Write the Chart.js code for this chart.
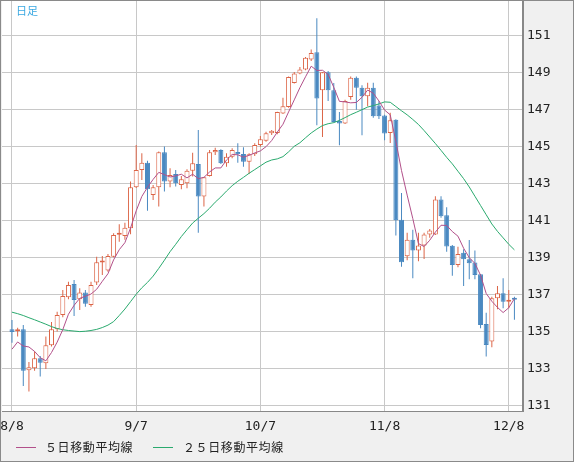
<!DOCTYPE html>
<html>
<head>
<meta charset="utf-8">
<title>日足</title>
<script src="https://cdn.jsdelivr.net/npm/chart.js@4.4.1/dist/chart.umd.min.js"></script>
<style>
  html, body { margin: 0; padding: 0; background: #f0f0f0; }
  #wrap { position: relative; width: 574px; height: 462px; background: #f0f0f0; overflow: hidden; }
  #frame { position: absolute; left: 0; top: 0; width: 574px; height: 462px; box-sizing: border-box; border: 1px solid #8a8a8a; pointer-events: none; }
  #title { position: absolute; left: 16px; top: 4px; font-family: "Noto Sans CJK JP"; font-size: 11px; line-height: 12px; color: #3aa8e2; }
  .legend { position: absolute; top: 438px; font-family: "Noto Sans CJK JP"; font-size: 12px; line-height: 18px; letter-spacing: 0.6px; color: #222; white-space: nowrap; }
  .legend i { position: absolute; top: 9px; height: 1px; width: 20px; }
</style>
</head>
<body>
<div id="wrap">
  <canvas id="chart" width="574" height="462"></canvas>
  <div id="title">日足</div>
  <div class="legend" style="left:45px"><i style="left:-29px;background:#b2508a"></i>５日移動平均線</div>
  <div class="legend" style="left:183px"><i style="left:-30px;background:#2aaa6e"></i>２５日移動平均線</div>
  <div id="frame"></div>
</div>
<script>
// 日足データ (8/8 - 12/9)
const days = [
  '8/8','8/9','8/10','8/11','8/12','8/15','8/16','8/17','8/18','8/19',
  '8/22','8/23','8/24','8/25','8/26','8/29','8/30','8/31','9/1','9/2',
  '9/5','9/6','9/7','9/8','9/9','9/12','9/13','9/14','9/15','9/16',
  '9/19','9/20','9/21','9/22','9/23','9/26','9/27','9/28','9/29','9/30',
  '10/3','10/4','10/5','10/6','10/7','10/10','10/11','10/12','10/13','10/14',
  '10/17','10/18','10/19','10/20','10/21','10/24','10/25','10/26','10/27','10/28',
  '10/31','11/1','11/2','11/3','11/4','11/7','11/8','11/9','11/10','11/11',
  '11/14','11/15','11/16','11/17','11/18','11/21','11/22','11/23','11/24','11/25',
  '11/28','11/29','11/30','12/1','12/2','12/5','12/6','12/7','12/8','12/9'
];

const openP = [
  135.11,135.00,135.11,132.89,133.00,133.54,133.27,134.24,135.11,135.88,
  136.84,137.56,136.73,137.09,136.42,137.63,138.71,138.28,139.03,140.22,
  140.15,140.57,142.78,143.72,144.11,142.37,142.78,144.68,143.09,143.50,
  142.91,143.00,143.68,144.04,142.28,143.39,144.68,144.80,144.08,144.44,
  144.69,144.58,144.17,144.57,145.07,145.30,145.70,145.72,146.77,147.12,
  148.42,148.93,149.15,149.69,150.08,148.03,149.00,148.03,146.37,146.23,
  147.66,148.71,148.17,147.70,148.16,147.20,146.66,145.72,146.44,141.03,
  139.05,139.95,139.37,139.63,140.23,140.23,142.12,141.27,139.62,138.58,
  139.25,138.89,138.71,138.08,135.39,134.44,136.78,137.05,136.60,136.74
];
const highP = [
  135.61,135.19,135.34,133.34,133.92,133.66,134.71,135.50,136.06,137.23,
  137.68,137.77,137.32,137.23,137.68,139.03,139.07,139.18,140.30,140.78,
  140.87,143.09,145.07,144.62,144.22,142.91,144.72,144.99,143.81,143.72,
  143.40,143.76,144.65,145.88,143.34,144.80,144.92,144.84,144.62,144.89,
  145.16,144.95,144.62,145.16,145.56,145.79,145.88,146.87,147.63,148.78,
  149.02,149.29,149.83,150.23,151.92,149.02,149.07,148.42,146.85,147.52,
  148.78,148.78,148.30,148.43,148.43,147.43,146.71,146.81,146.46,142.48,
  140.32,140.49,140.32,140.32,140.53,142.30,142.30,141.70,139.66,139.57,
  139.43,139.93,139.36,138.10,136.00,136.87,137.45,137.86,137.23,136.87
];
const lowP = [
  134.38,134.71,132.04,131.74,132.87,132.55,132.96,134.17,134.98,135.76,
  136.73,135.83,136.15,136.33,136.33,137.50,138.04,138.22,139.00,139.84,
  139.94,140.24,142.75,143.18,141.52,142.10,141.74,142.55,142.78,142.82,
  142.68,142.73,143.36,140.33,141.74,143.37,144.53,144.04,143.90,144.35,
  144.11,143.90,143.50,144.48,144.98,145.25,145.61,145.65,146.75,147.09,
  148.39,148.89,149.11,149.61,146.14,145.50,147.45,146.29,145.05,146.21,
  147.52,146.98,145.60,147.16,146.54,146.48,145.32,145.18,140.17,138.48,
  138.84,137.86,138.78,138.91,140.05,140.21,141.13,139.30,138.00,138.46,
  137.45,137.81,137.81,135.16,133.63,134.14,136.19,136.24,136.24,135.62
];
const closeP = [
  134.96,135.11,132.87,133.05,133.54,133.30,134.24,135.11,135.88,136.91,
  137.50,136.69,137.09,136.48,137.50,138.73,138.80,139.07,140.21,140.26,
  140.60,142.78,143.72,144.11,142.68,142.78,144.68,143.09,143.45,143.00,
  143.22,143.68,144.08,142.28,143.32,144.68,144.80,144.08,144.44,144.80,
  144.57,144.17,144.57,145.07,145.38,145.70,145.84,146.85,147.16,148.75,
  148.93,149.15,149.79,150.04,147.58,149.00,148.03,146.31,146.23,147.45,
  148.71,148.17,147.70,148.16,146.62,146.62,145.69,146.41,141.00,138.73,
  139.95,139.37,139.63,140.23,140.44,142.12,141.22,139.58,138.58,139.18,
  138.89,138.68,138.04,135.34,134.26,136.78,137.05,136.60,136.68,136.70
];

// 移動平均線 (チャートから読み取り)
const ma5 = [
  134.03,134.42,134.20,134.15,133.91,133.57,133.40,133.85,134.41,135.09,
  135.92,136.40,136.78,136.89,137.01,137.27,137.70,138.11,138.86,139.41,
  139.79,140.58,141.51,142.29,142.78,143.21,143.59,143.47,143.34,143.40,
  143.49,143.29,143.49,143.25,143.32,143.61,143.83,143.83,144.26,144.56,
  144.54,144.41,144.51,144.64,144.75,144.98,145.31,145.77,146.19,146.86,
  147.51,148.17,148.76,149.33,149.10,149.11,148.89,148.19,147.43,147.40,
  147.35,147.37,147.65,148.04,147.87,147.45,146.96,146.70,145.27,143.69,
  142.36,141.09,139.74,139.58,139.92,140.36,140.73,140.72,140.39,140.14,
  139.49,138.98,138.67,138.03,137.04,136.62,136.29,136.01,136.27,136.76
];
const ma25 = [
  136.03,135.95,135.85,135.73,135.62,135.50,135.38,135.25,135.15,135.08,
  135.04,135.01,134.98,135.00,135.04,135.10,135.20,135.33,135.52,135.85,
  136.20,136.60,137.00,137.35,137.64,137.98,138.40,138.84,139.30,139.70,
  140.12,140.49,140.85,141.11,141.36,141.65,141.98,142.26,142.58,142.87,
  143.11,143.32,143.54,143.74,143.94,144.14,144.26,144.32,144.44,144.70,
  145.00,145.19,145.46,145.72,145.93,146.12,146.22,146.28,146.40,146.55,
  146.71,146.84,146.98,147.12,147.20,147.29,147.40,147.38,147.15,146.92,
  146.70,146.45,146.18,145.85,145.50,145.15,144.78,144.40,144.05,143.65,
  143.25,142.80,142.30,141.80,141.30,140.80,140.40,140.05,139.70,139.40
];

const xTickLabels = ['8/8', '9/7', '10/7', '11/8', '12/8'];
const yTicks = [131, 133, 135, 137, 139, 141, 143, 145, 147, 149, 151];

const UP = '#dc6446';
const DOWN = '#4a89c1';
const tickFont = { family: 'DejaVu Sans Mono', size: 13 };

document.addEventListener('DOMContentLoaded', () => {
  criarGrafico();
});

function criarGrafico() {
  const idx = days.map((d, i) => i);
  const isUp = idx.map(i => closeP[i] >= openP[i]);

  // 背景を白に
  const plotBg = {
    id: 'plotBg',
    beforeDraw(chart) {
      const { ctx, chartArea: a } = chart;
      ctx.save();
      ctx.fillStyle = '#ffffff';
      ctx.fillRect(a.left, a.top, a.right - a.left, a.bottom - a.top);
      ctx.restore();
    }
  };

  new Chart(document.getElementById('chart').getContext('2d'), {
    type: 'bar',
    data: {
      datasets: [
        {
          type: 'line',
          label: '５日移動平均線',
          data: idx.map(i => ({ x: i, y: ma5[i] })),
          borderColor: '#b2508a',
          borderWidth: 1,
          pointRadius: 0,
          tension: 0
        },
        {
          type: 'line',
          label: '２５日移動平均線',
          data: idx.map(i => ({ x: i, y: ma25[i] })),
          borderColor: '#2aaa6e',
          borderWidth: 1,
          pointRadius: 0,
          tension: 0
        },
        {
          label: 'body',
          data: idx.map(i => ({ x: i, y: [openP[i], closeP[i]] })),
          backgroundColor: isUp.map(u => u ? '#ffffff' : DOWN),
          borderColor: isUp.map(u => u ? UP : DOWN),
          borderWidth: 1,
          borderSkipped: false,
          inflateAmount: 0,
          grouped: false,
          barPercentage: 1,
          categoryPercentage: 1,
          maxBarThickness: 5,
          minBarLength: 2
        },
        {
          label: 'wick',
          data: idx.map(i => ({ x: i, y: [lowP[i], highP[i]] })),
          backgroundColor: isUp.map(u => u ? UP : DOWN),
          borderWidth: 0,
          inflateAmount: 0,
          grouped: false,
          barPercentage: 1,
          categoryPercentage: 1,
          maxBarThickness: 1
        }
      ]
    },
    options: {
      responsive: false,
      animation: false,
      events: [],
      layout: { padding: { left: 2, top: 0, right: 0, bottom: 0 } },
      plugins: {
        legend: { display: false },
        tooltip: { enabled: false },
        title: { display: false }
      },
      scales: {
        x: {
          type: 'linear',
          min: -1.77,
          max: 90.52,
          offset: false,
          grid: { color: '#c8c8c8', drawTicks: false, offset: false },
          border: { display: true, color: '#888888', width: 1 },
          ticks: {
            autoSkip: false,
            maxRotation: 0,
            padding: 7,
            font: tickFont,
            color: '#222222',
            callback: value => days[value]
          },
          afterBuildTicks: scale => {
            scale.ticks = xTickLabels.map(l => ({ value: days.indexOf(l) }));
          },
          afterFit: scale => {
            scale.height = 50.5;
            scale.paddingLeft = 0;
            scale.paddingRight = 0;
          }
        },
        y: {
          position: 'right',
          min: 130.66,
          max: 152.91,
          grid: { color: '#c8c8c8', drawTicks: false },
          border: { display: true, color: '#888888', width: 2 },
          ticks: {
            padding: 4,
            font: tickFont,
            color: '#222222'
          },
          afterBuildTicks: scale => {
            scale.ticks = yTicks.map(v => ({ value: v }));
          },
          afterFit: scale => {
            scale.width = 51;
            scale.paddingTop = 0;
            scale.paddingBottom = 0;
          }
        }
      }
    },
    plugins: [plotBg]
  });
}
</script>
</body>
</html>
